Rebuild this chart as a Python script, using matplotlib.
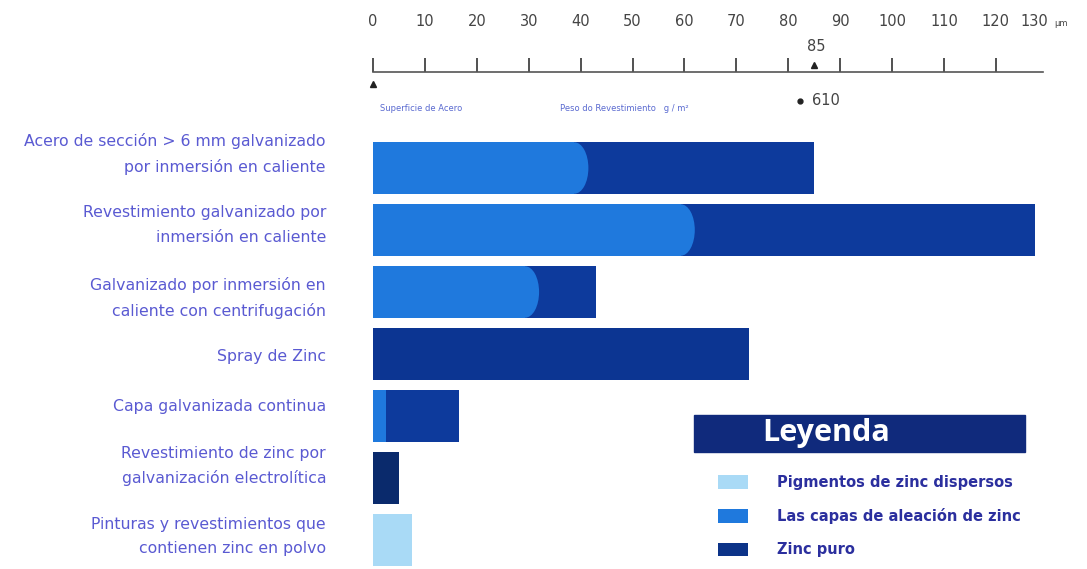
import matplotlib
matplotlib.use("Agg")
import matplotlib.pyplot as plt
from matplotlib.patches import Rectangle, Ellipse, Patch

# ---------------- data ----------------
categories = [
    "Acero de sección > 6 mm galvanizado\npor inmersión en caliente",
    "Revestimiento galvanizado por\ninmersión en caliente",
    "Galvanizado por inmersión en\ncaliente con centrifugación",
    "Spray de Zinc",
    "Capa galvanizada continua",
    "Revestimiento de zinc por\ngalvanización electrolítica",
    "Pinturas y revestimientos que\ncontienen zinc en polvo",
]
alloy_layers = [41.5, 62.0, 32.0, 0.0, 2.5, 0.0, 0.0]      # Las capas de aleación de zinc
pure_zinc = [43.5, 65.5, 11.0, 72.5, 14.0, 5.0, 0.0]       # Zinc puro
zinc_pigments = [0.0, 0.0, 0.0, 0.0, 0.0, 0.0, 7.5]        # Pigmentos de zinc dispersos
legend_labels = ["Pigmentos de zinc dispersos", "Las capas de aleación de zinc", "Zinc puro"]
ruler_ticks = list(range(0, 130, 10))
ruler_max = 129
marker_value = 85
marker_weight = "610"

# ---------------- style ----------------
c_light = "#a9daf6"
c_mid = "#1f79dd"
c_dark = "#0d3a9c"
pure_colors = [c_dark, c_dark, c_dark, "#0c3592", c_dark, "#0a2a6c", c_dark]
label_color = "#5a5ad2"
legend_text_color = "#2b2f9e"
label_offsets_px = [-14, -5, 6, 3, -10, -12, -3]   # vertical nudges of category labels

W, H = 1087, 569
fig = plt.figure(figsize=(W / 100, H / 100), dpi=100)
fig.patch.set_facecolor("white")

x0_px = 373
px_per_unit = 5.19
xmax = (W - x0_px) / px_per_unit

def fx(px):
    return px / W

def fy(py):
    return 1 - py / H

# main bar axes
ax = fig.add_axes([fx(x0_px), 0, 1 - fx(x0_px), fy(130)])
ax.set_xlim(0, xmax)
n = len(categories)
ypos = list(range(n))
row_px = 62
ax.set_ylim((569 - 168) / row_px, (130 - 168) / row_px)
bh = 0.83

bulge = 2.7
for i in ypos:
    a = alloy_layers[i]
    p = pure_zinc[i]
    g = zinc_pigments[i]
    if p > 0:
        ax.barh(i, p, left=a, height=bh, color=pure_colors[i], linewidth=0)
    if a > 0:
        if p > 0 and a > 2 * bulge:
            ax.barh(i, bulge, left=a - bulge, height=bh, color=pure_colors[i], linewidth=0)
            ax.barh(i, a - bulge, left=0, height=bh, color=c_mid, linewidth=0)
            ax.add_patch(Ellipse((a - bulge, i), 2 * bulge, bh, color=c_mid, linewidth=0))
        else:
            ax.barh(i, a, left=0, height=bh, color=c_mid, linewidth=0)
    if g > 0:
        ax.barh(i, g, left=0, height=bh, color=c_light, linewidth=0)

# category labels
label_x = -(x0_px - 326) / px_per_unit
for i, cat in enumerate(categories):
    ax.text(label_x, i + label_offsets_px[i] / row_px, cat, ha="right", va="center",
            multialignment="right", linespacing=1.75, fontsize=11.3,
            color=label_color, clip_on=False)
ax.set_yticks([])
ax.set_xticks([])
for s in ax.spines.values():
    s.set_visible(False)
ax.patch.set_alpha(0)

# ruler axes on top
ax2 = fig.add_axes([fx(x0_px), fy(72), 1 - fx(x0_px), 42 / H])
ax2.set_xlim(0, xmax)
ax2.set_ylim(0, 1)
ax2.set_xticks(ruler_ticks)
ax2.set_xticklabels([str(t) for t in ruler_ticks])
ax2.tick_params(axis="x", direction="in", length=10, width=1.2, color="#333333",
                bottom=True, top=False, labelbottom=False, labeltop=True,
                labelsize=10.5, labelcolor="#444444", pad=1)
ax2.set_yticks([])
for k in ["left", "right", "top"]:
    ax2.spines[k].set_visible(False)
ax2.spines["bottom"].set_bounds(0, ruler_max)
ax2.spines["bottom"].set_color("#555555")
ax2.spines["bottom"].set_linewidth(1.2)
ax2.patch.set_alpha(0)

ax2.text(127.5, 1.0 + 1 / 42, "130", ha="center", va="bottom", fontsize=10.5, color="#444444")
ax2.text(131.3, 1.0 + 2 / 42, "μm", ha="left", va="bottom", fontsize=6, color="#444444")
ax2.plot([marker_value], [0.17], marker="^", ms=5, color="#222222", clip_on=False)
ax2.text(marker_value + 0.5, 0.6, str(marker_value), ha="center", va="center",
         fontsize=10.5, color="#444444")
ax2.plot([0], [-0.29], marker="^", ms=4, color="#222222", clip_on=False)
ax2.plot([82.3], [-0.69], marker="o", ms=3.5, color="#222222", clip_on=False)
ax2.text(84.6, -0.69, marker_weight, ha="left", va="center", fontsize=10.5,
         color="#444444", clip_on=False)
ax2.text(1.3, -0.88, "Superficie de Acero", ha="left", va="center", fontsize=6,
         color="#5a6ad0", clip_on=False)
ax2.text(36, -0.88, "Peso do Revestimiento   g / m²", ha="left", va="center", fontsize=6,
         color="#5a6ad0", clip_on=False)

# legend title bar
fig.patches.append(Rectangle((fx(694), fy(452)), fx(1025) - fx(694), fy(415) - fy(452),
                             transform=fig.transFigure, color="#102a7c", zorder=5))
fig.text(fx(762), fy(433), "Leyenda", color="white", fontsize=22, fontweight="bold",
         family="Open Sans", ha="left", va="center", zorder=6)

handles = [Patch(facecolor=c_light, edgecolor="none"),
           Patch(facecolor=c_mid, edgecolor="none"),
           Patch(facecolor="#0c3388", edgecolor="none")]
leg = fig.legend(handles, legend_labels, loc="upper left",
                 bbox_to_anchor=(fx(718), fy(475)), bbox_transform=fig.transFigure,
                 frameon=False, borderpad=0, borderaxespad=0,
                 handlelength=2.05, handleheight=1.05, handletextpad=2.0,
                 labelspacing=1.25, fontsize=10.5)
for t in leg.get_texts():
    t.set_color(legend_text_color)
    t.set_fontweight("bold")

fig.savefig("out.png", dpi=100)
